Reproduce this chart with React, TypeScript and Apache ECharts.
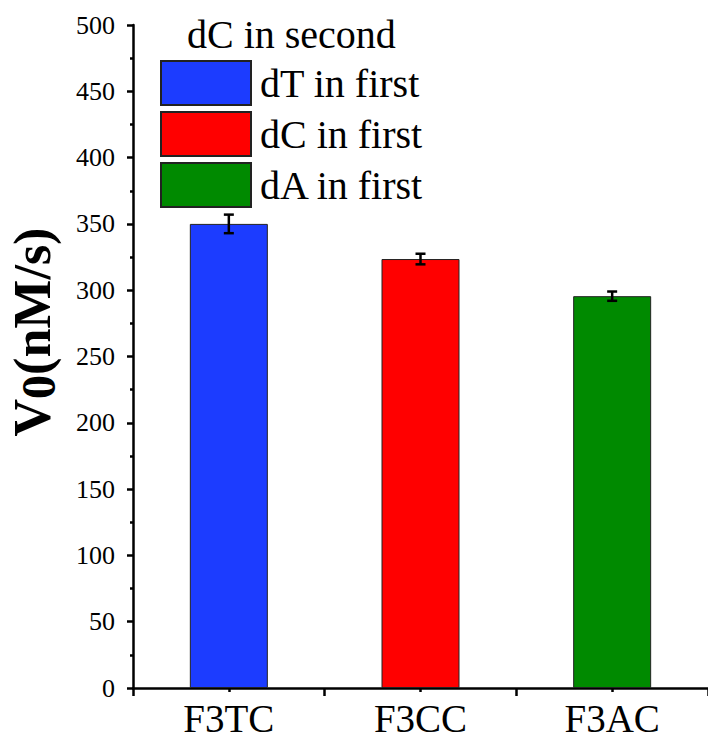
import React, { useEffect, useRef } from "react";
import * as echarts from "echarts";

const categories = ["F3TC", "F3CC", "F3AC"];
const seriesNames = ["dT in first", "dC in first", "dA in first"];
const values = [350, 323.5, 295.5];
const errors = [7, 4, 3.5];
const colors = ["#1c3cff", "#ff0000", "#008a00"];
const legendTitle = "dC in second";
const yMin = 0;
const yMax = 500;
const yInterval = 50;

const FONT = "Liberation Serif";

export default function App() {
  const ref = useRef<HTMLDivElement>(null);
  useEffect(() => {
    if (!ref.current) return;
    const chart = echarts.init(ref.current, null, { renderer: "svg" });
    const barSeries = seriesNames.map((name, i) => ({
      name,
      type: "bar",
      barWidth: 78,
      barGap: "-100%",
      itemStyle: { color: colors[i], borderColor: "#222", borderWidth: 1 },
      data: categories.map((_, j) => (j === i ? values[j] : "-")),
      z: 2,
    }));
    const errData = categories.map((_, i) => [i, values[i] - errors[i], values[i] + errors[i]]);
    const option = {
      animation: false,
      backgroundColor: "#fff",
      textStyle: { fontFamily: FONT },
      grid: { left: 133, top: 25, width: 582, height: 663, containLabel: false },
      legend: {
        orient: "vertical",
        left: 160,
        top: 60,
        padding: 0,
        itemWidth: 90,
        itemHeight: 44,
        itemGap: 5,
        icon: "rect",
        selectedMode: false,
        data: seriesNames,
        textStyle: { fontFamily: FONT, fontSize: 40, color: "#000", padding: [0, 0, 0, 4] },
      },
      graphic: [
        {
          type: "text",
          left: 187,
          top: 14,
          style: { text: legendTitle, font: "40px 'Liberation Serif'", fill: "#000" },
        },
        {
          type: "text",
          x: 32,
          y: 332,
          rotation: Math.PI / 2,
          style: {
            text: "{v|V}{s|0}{v|(nM/s)}",
            align: "center",
            verticalAlign: "middle",
            rich: {
              v: { fontFamily: FONT, fontSize: 52, fontWeight: "bold", fill: "#000", lineHeight: 60, verticalAlign: "middle" },
              s: { fontFamily: FONT, fontSize: 48, fontWeight: "bold", fill: "#000", lineHeight: 50, verticalAlign: "bottom" },
            },
          },
        },
      ],
      xAxis: [
        {
          type: "category",
          data: categories,
          boundaryGap: true,
          axisLine: { lineStyle: { color: "#000", width: 2.5 } },
          axisTick: { show: true, length: 8, lineStyle: { color: "#000", width: 2.5 } },
          axisLabel: { fontFamily: FONT, fontSize: 39, lineHeight: 39, color: "#000", margin: 11 },
        },
        {
          type: "category",
          data: categories,
          position: "bottom",
          boundaryGap: true,
          axisLine: { show: false },
          axisTick: { show: true, alignWithLabel: true, length: 4, lineStyle: { color: "#000", width: 2.5 } },
          axisLabel: { show: false },
        },
      ],
      yAxis: {
        type: "value",
        min: yMin,
        max: yMax,
        interval: yInterval,
        splitLine: { show: false },
        axisLine: { show: true, lineStyle: { color: "#000", width: 2.5 } },
        axisTick: { show: true, length: 6, lineStyle: { color: "#000", width: 2.5 } },
        minorTick: { show: true, splitNumber: 2, length: 3, lineStyle: { color: "#000", width: 2.5 } },
        axisLabel: { fontFamily: FONT, fontSize: 26, color: "#000", margin: 18 },
      },
      series: [
        ...barSeries,
        {
          type: "custom",
          name: "err",
          data: errData,
          z: 5,
          renderItem: (params: any, api: any) => {
            const x = api.value(0);
            const lo = api.coord([x, api.value(1)]);
            const hi = api.coord([x, api.value(2)]);
            const half = 5;
            const st = { stroke: "#000", lineWidth: 2.5 };
            return {
              type: "group",
              children: [
                { type: "line", shape: { x1: lo[0], y1: lo[1], x2: hi[0], y2: hi[1] }, style: st },
                { type: "line", shape: { x1: lo[0] - half, y1: lo[1], x2: lo[0] + half, y2: lo[1] }, style: st },
                { type: "line", shape: { x1: hi[0] - half, y1: hi[1], x2: hi[0] + half, y2: hi[1] }, style: st },
              ],
            };
          },
        },
      ],
    };
    chart.setOption(option as any);
    return () => chart.dispose();
  }, []);
  return (
    <div
      ref={ref}
      style={{ position: "fixed", left: 0, top: 0, width: 708, height: 740, background: "#fff" }}
    />
  );
}
